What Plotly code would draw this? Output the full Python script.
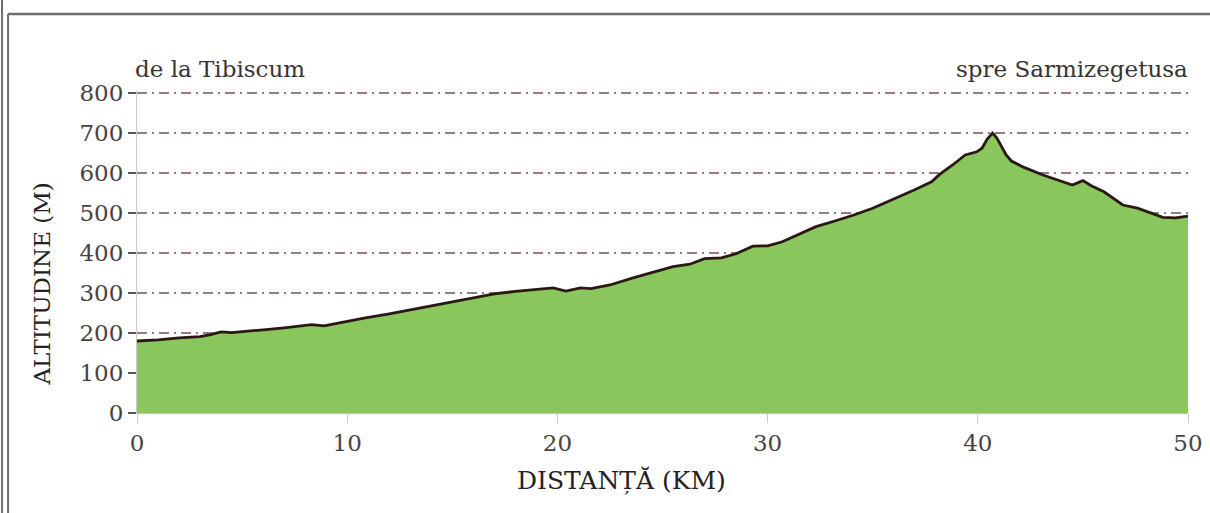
import plotly.graph_objects as go

# distance (km) and altitude (m) read from the profile
km = [0, 1, 2, 3, 3.5, 4, 4.5, 5, 6, 7, 8, 8.3, 8.9, 10, 10.8, 12, 13, 14, 15, 16,
      17, 18, 18.9, 19.8, 20.4, 21.1, 21.6, 22.5, 23.6, 24.5, 25.5, 26.3, 27, 27.8,
      28.5, 29.3, 30, 30.7, 31.5, 32.3, 33.2, 34.1, 35, 36, 37, 37.8, 38.2, 38.8,
      39.4, 39.95, 40.2, 40.45, 40.7, 40.9, 41.35, 41.6, 42.2, 43.1, 43.9, 44.5,
      45.0, 45.4, 46, 46.9, 47.6, 48.2, 48.8, 49.4, 50]
alt = [180, 183, 188, 191, 196, 203, 201, 203, 208, 213, 219, 221, 218, 230, 237,
       248, 258, 269, 279, 289, 298, 304, 308, 313, 305, 313, 311, 320, 338, 352,
       366, 372, 386, 388, 398, 417, 418, 428, 446, 466, 480, 495, 512, 534, 558,
       578, 597, 620, 645, 653, 662, 685, 700, 688, 645, 630, 614, 595, 581, 570,
       581, 568, 553, 520, 512, 500, 489, 488, 492]

y_ticks = [0, 100, 200, 300, 400, 500, 600, 700, 800]
x_ticks = [0, 10, 20, 30, 40, 50]

start_label = "de la Tibiscum"
end_label = "spre Sarmizegetusa"
x_title = "DISTANȚĂ (KM)"
y_title = "ALTITUDINE (M)"

FONT = "DejaVu Serif"

fig = go.Figure()
fig.add_trace(go.Scatter(
    x=km, y=alt, mode="lines", fill="tozeroy",
    fillcolor="#89c65b",
    line=dict(color="#2a1814", width=2.8, shape="linear"),
    hoverinfo="skip", showlegend=False,
))

fig.update_layout(
    width=1210, height=513,
    margin=dict(l=137, r=22, t=91, b=100, autoexpand=False),
    paper_bgcolor="white", plot_bgcolor="white",
    font=dict(family=FONT, color="#4a4242"),
    xaxis=dict(
        range=[0, 50], tickvals=x_ticks, ticks="outside", ticklen=9,
        tickcolor="#d0c8c8", tickwidth=1,
        showgrid=False, zeroline=False, automargin=False,
        showline=True, linecolor="#b8bfe6", linewidth=1,
        tickfont=dict(family=FONT, size=23, color="#4a4242"),
    ),
    yaxis=dict(
        range=[0, 805], tickvals=y_ticks, ticks="outside", ticklen=8,
        tickcolor="#555", tickwidth=1.5,
        showgrid=True, gridcolor="#8c7f7d", gridwidth=1.5,
        griddash="10px,5px,2px,5px",
        zeroline=False, automargin=False,
        showline=True, linecolor="#cccccc", linewidth=1,
        tickfont=dict(family=FONT, size=23, color="#4a4242"),
    ),
    annotations=[
        dict(text=start_label, xref="paper", yref="paper", x=-0.004, y=1.068,
             xanchor="left", yanchor="middle", showarrow=False,
             font=dict(family=FONT, size=23, color="#3a3232")),
        dict(text=end_label, xref="paper", yref="paper", x=1.002, y=1.068,
             xanchor="right", yanchor="middle", showarrow=False,
             font=dict(family=FONT, size=23, color="#3a3232")),
        dict(text=x_title, xref="paper", yref="paper", x=0.461, y=-0.21,
             xanchor="center", yanchor="middle", showarrow=False,
             font=dict(family=FONT, size=25, color="#222")),
        dict(text=y_title, xref="paper", yref="paper", x=-0.09, y=0.40,
             xanchor="center", yanchor="middle", showarrow=False, textangle=-90,
             font=dict(family=FONT, size=23, color="#222")),
    ],
    shapes=[
        dict(type="line", xref="paper", yref="paper", x0=-0.1284, x1=-0.1284,
             y0=-0.32, y1=1.3, line=dict(color="#6e6e6e", width=2)),
        dict(type="line", xref="paper", yref="paper", x0=-0.1227, x1=-0.1227,
             y0=-0.32, y1=1.239, line=dict(color="#6e6e6e", width=2)),
        dict(type="line", xref="paper", yref="paper", x0=-0.1227, x1=1.03,
             y0=1.239, y1=1.239, line=dict(color="#6e6e6e", width=2.5)),
    ],
)

fig.write_html(
    "out.html",
    config={"displayModeBar": False},
    post_script="document.body.style.margin='0';document.body.style.overflow='hidden';",
)
